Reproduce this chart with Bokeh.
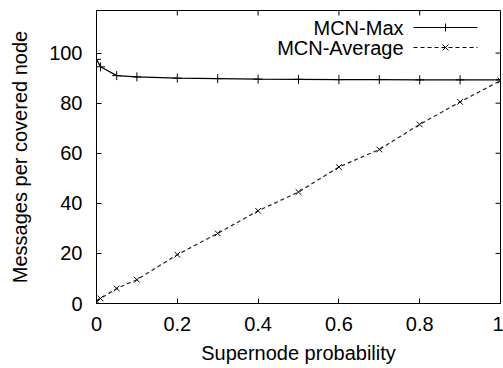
from bokeh.plotting import figure
from bokeh.models import Range1d, FixedTicker, Label, Arrow
from bokeh.embed import file_html
from bokeh.resources import INLINE

# ---- data ----
supernode_prob = [0.0, 0.01, 0.05, 0.1, 0.2, 0.3, 0.4, 0.5, 0.6, 0.7, 0.8, 0.9, 1.0]
mcn_max = [97.5, 94.5, 91.0, 90.5, 90.0, 89.8, 89.6, 89.5, 89.4, 89.4, 89.3, 89.3, 89.3]
mcn_average = [1.0, 2.0, 6.0, 9.5, 19.5, 28.0, 37.0, 44.5, 54.5, 61.5, 71.5, 80.5, 89.0]
x_ticks = [0, 0.2, 0.4, 0.6, 0.8, 1.0]
x_tick_labels = {0: "0", 0.2: "0.2", 0.4: "0.4", 0.6: "0.6", 0.8: "0.8", 1.0: "1"}
y_ticks = [0, 20, 40, 60, 80, 100]
series_names = ["MCN-Max", "MCN-Average"]
x_title = "Supernode probability"
y_title = "Messages per covered node"

FONT = "Liberation Sans"
FS = "20px"
XMAX, YMAX = 1.0, 117.0

p = figure(width=503, height=368, output_backend="svg", toolbar_location=None,
           x_range=Range1d(0, XMAX), y_range=Range1d(0, YMAX),
           min_border_left=96, min_border_right=3, min_border_top=10, min_border_bottom=65)
p.background_fill_color = "white"
p.border_fill_color = "white"
p.grid.visible = False
p.outline_line_color = "black"
p.outline_line_width = 1

for ax in (p.xaxis[0], p.yaxis[0]):
    ax.major_tick_in = 5
    ax.major_tick_out = 0
    ax.minor_tick_in = 0
    ax.minor_tick_out = 0
    ax.axis_line_color = "black"
    ax.major_tick_line_color = "black"
    ax.major_label_text_font = FONT
    ax.major_label_text_font_size = FS
    ax.major_label_text_color = "black"
    ax.axis_label_text_font = FONT
    ax.axis_label_text_font_size = FS
    ax.axis_label_text_font_style = "normal"
    ax.axis_label_text_color = "black"

p.xaxis[0].ticker = FixedTicker(ticks=x_ticks)
p.xaxis[0].major_label_overrides = x_tick_labels
p.xaxis[0].major_label_standoff = 13
p.xaxis[0].axis_label = x_title
p.xaxis[0].axis_label_standoff = 8

p.yaxis[0].ticker = FixedTicker(ticks=y_ticks)
p.yaxis[0].major_label_standoff = 14
p.yaxis[0].axis_label = y_title
p.yaxis[0].axis_label_standoff = 15

# mirror ticks on top and right border (inward, 5 px)
p.ray(x=x_ticks, y=[YMAX] * len(x_ticks), length=5, length_units="screen",
      angle=-90, angle_units="deg", line_color="black", line_width=1)
p.ray(x=[XMAX] * len(y_ticks), y=y_ticks, length=5, length_units="screen",
      angle=180, angle_units="deg", line_color="black", line_width=1)

# series
p.line(supernode_prob, mcn_max, line_color="black", line_width=1.2)
p.scatter(supernode_prob, mcn_max, marker="cross", size=9, line_color="black", line_width=1)
p.line(supernode_prob, mcn_average, line_color="#222222", line_width=1.2, line_dash="4 3")
p.scatter(supernode_prob, mcn_average, marker="x", size=8, line_color="black", line_width=1)

# pixel -> data helpers for legend placement like gnuplot
def dx(px):
    return (px - 96) / 404 * XMAX

def dy(py):
    return (303 - py) / 293 * YMAX

# custom gnuplot-style legend (text right-aligned, sample to the right)
rows = [(series_names[0], 27, None, "cross"), (series_names[1], 47, "4 3", "x")]
for name, py, dash, mk in rows:
    p.add_layout(Label(x=dx(403), y=dy(py), text=name, text_align="right",
                       text_baseline="middle", text_font=FONT, text_font_size=FS,
                       text_color="black"))
    a = Arrow(x_start=dx(413), y_start=dy(py), x_end=dx(477), y_end=dy(py),
              end=None, line_color="black", line_width=1.2)
    if dash:
        a.line_dash = dash
    p.add_layout(a)
    cx = 445
    if mk == "cross":
        segs = [((cx - 4, py), (cx + 4, py)), ((cx, py - 4), (cx, py + 4))]
    else:
        segs = [((cx - 3, py - 3), (cx + 3, py + 3)), ((cx - 3, py + 3), (cx + 3, py - 3))]
    for (x0, y0), (x1, y1) in segs:
        p.add_layout(Arrow(x_start=dx(x0), y_start=dy(y0), x_end=dx(x1), y_end=dy(y1),
                           end=None, line_color="black", line_width=1))

open("out.html", "w").write(file_html(p, INLINE))
